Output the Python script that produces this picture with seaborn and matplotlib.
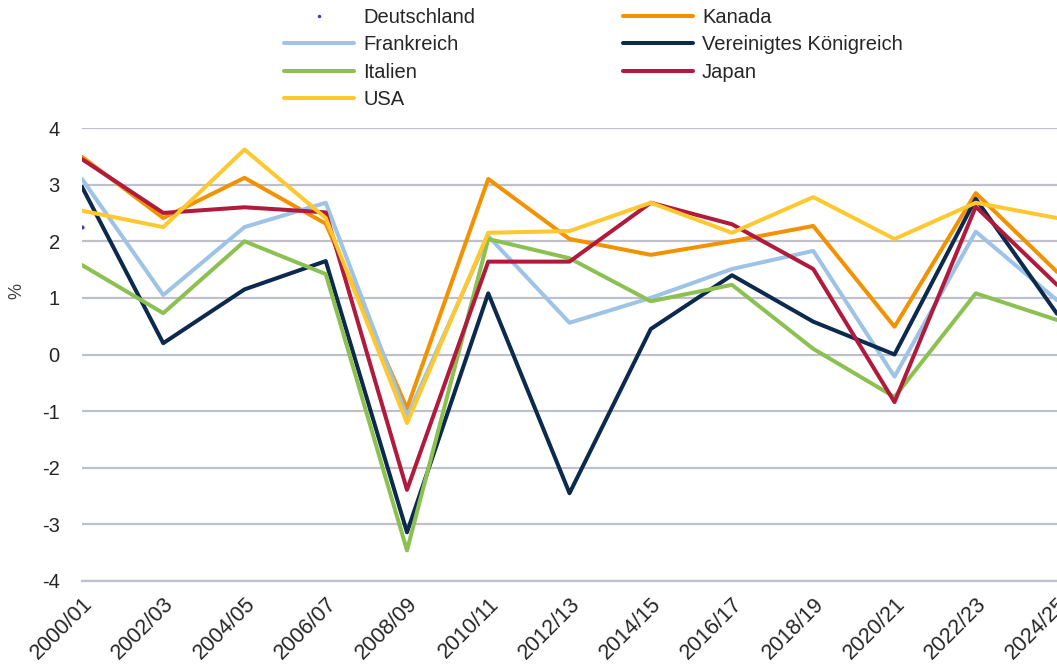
import numpy as np
import pandas as pd
import matplotlib
matplotlib.use('Agg')
import matplotlib.pyplot as plt
import seaborn as sns
from matplotlib.lines import Line2D
from matplotlib.legend_handler import HandlerLine2D

# ==============================
# DATA
# ==============================
periods = ['2000/01', '2002/03', '2004/05', '2006/07', '2008/09', '2010/11', '2012/13',
           '2014/15', '2016/17', '2018/19', '2020/21', '2022/23', '2024/25']

deutschland = [2.25] + [np.nan] * 12
kanada = [3.49, 2.41, 3.12, 2.31, -0.95, 3.10, 2.04, 1.76, 2.00, 2.27, 0.49, 2.85, 1.46]
frankreich = [3.10, 1.05, 2.25, 2.68, -1.10, 2.09, 0.56, 1.00, 1.51, 1.83, -0.39, 2.17, 0.96]
vk = [2.96, 0.20, 1.15, 1.65, -3.14, 1.08, -2.45, 0.45, 1.40, 0.58, 0.00, 2.75, 0.72]
italien = [1.58, 0.73, 2.00, 1.42, -3.46, 2.04, 1.70, 0.94, 1.23, 0.10, -0.75, 1.08, 0.61]
japan = [3.45, 2.50, 2.60, 2.51, -2.39, 1.64, 1.64, 2.68, 2.30, 1.51, -0.84, 2.61, 1.23]
usa = [2.54, 2.25, 3.62, 2.41, -1.21, 2.15, 2.18, 2.68, 2.15, 2.78, 2.04, 2.68, 2.41]

series = {
    'Deutschland': deutschland,
    'Kanada': kanada,
    'Frankreich': frankreich,
    'Vereinigtes Königreich': vk,
    'Italien': italien,
    'Japan': japan,
    'USA': usa,
}
colors = {
    'Deutschland': '#3a3fc4',
    'Kanada': '#f39200',
    'Frankreich': '#9dc3e6',
    'Vereinigtes Königreich': '#0b2a4e',
    'Italien': '#8cc152',
    'Japan': '#b01a3c',
    'USA': '#ffc82e',
}

rows = []
for name, vals in series.items():
    for i, v in enumerate(vals):
        rows.append({'idx': i, 'Land': name, 'Wert': v})
df = pd.DataFrame(rows)

sns.set_style('white')
plt.rcParams['font.family'] = ['Liberation Sans', 'DejaVu Sans']
plt.rcParams['axes.unicode_minus'] = False

fig = plt.figure(figsize=(10.57, 6.66), dpi=100)
ax = fig.add_axes([82 / 1057, 1 - 581 / 666, 1 - 82 / 1057, (581 - 128) / 666])

line_names = [n for n in series if n != 'Deutschland']
sns.lineplot(data=df[df['Land'].isin(line_names)], x='idx', y='Wert', hue='Land',
             hue_order=line_names, palette=colors, linewidth=2.9, sort=False,
             legend=False, ax=ax, zorder=3)

# Deutschland only shows up as a tiny dot
d = df[df['Land'] == 'Deutschland'].dropna()
ax.scatter(d['idx'], d['Wert'], s=4, color=colors['Deutschland'], zorder=3)

ax.set_xlim(0, len(periods) - 1)
ax.set_ylim(-4, 4)
ax.set_yticks(range(-4, 5))
ax.yaxis.grid(True, color='#bfc0ca', linewidth=1.6)
ax.set_axisbelow(True)
for s in ['left', 'right', 'top']:
    ax.spines[s].set_visible(False)
ax.spines['bottom'].set_color('#bfc0ca')
ax.spines['bottom'].set_linewidth(1.6)

ax.set_xticks(range(len(periods)))
ax.set_xticklabels(periods, rotation=45, ha='right', rotation_mode='anchor')
ax.tick_params(axis='x', length=5, width=1.6, color='#bfc0ca', labelsize=15.5, pad=4)
ax.tick_params(axis='y', length=0, labelsize=14.5, pad=16)
ax.set_xlabel('')
ax.set_ylabel('%', fontsize=13, color='#404040')
ax.yaxis.set_label_coords(-0.058, 0.64)


class LeftDot(HandlerLine2D):
    def get_xdata(self, legend, xdescent, ydescent, width, height, fontsize):
        xdata, xm = super().get_xdata(legend, xdescent, ydescent, width, height, fontsize)
        return xdata, np.array([xdata[0] + 1.5])


handles = {}
for name in series:
    if name == 'Deutschland':
        handles[name] = Line2D([], [], color='white', linewidth=2.9, marker='.',
                               markersize=3, markerfacecolor=colors[name],
                               markeredgecolor=colors[name])
    else:
        handles[name] = Line2D([], [], color=colors[name], linewidth=2.9)

order = ['Deutschland', 'Frankreich', 'Italien', 'USA', 'Kanada', 'Vereinigtes Königreich', 'Japan']
fig.legend([handles[n] for n in order], order, loc='upper left',
           bbox_to_anchor=(284 / 1057, 1 - 8 / 666), ncol=2, frameon=False,
           fontsize=14.5, handlelength=3.5, handletextpad=0.45, columnspacing=7.3,
           labelspacing=0.42, borderpad=0, borderaxespad=0,
           handler_map={handles['Deutschland']: LeftDot()})

fig.savefig('out.png', dpi=100)
